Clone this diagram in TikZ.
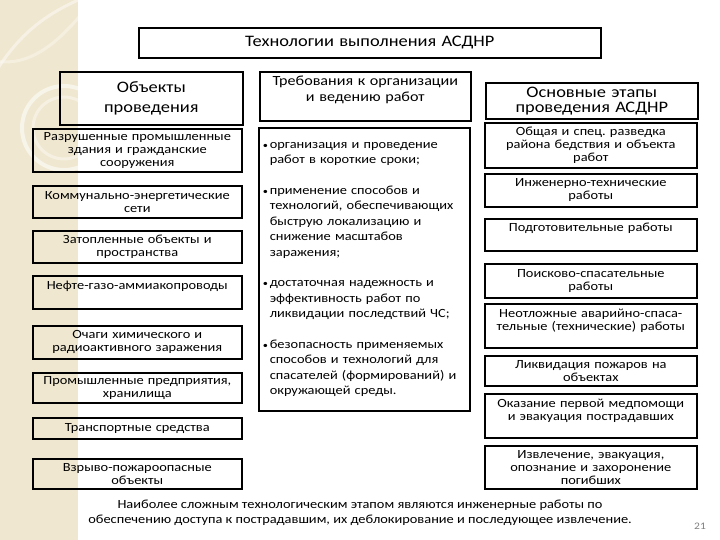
\documentclass[tikz,border=0pt]{standalone}
\usepackage{fontspec}
\setmainfont{Carlito}[FakeStretch=1.15]
\frenchspacing
\newcommand{\bul}{\makebox[7pt][l]{\small\textbullet}}
\newcommand{\itm}[1]{\hangindent=7pt\hangafter=1\noindent\bul#1\par}
\newcommand{\lift}[1]{\par\rule[-#1]{0pt}{#1}}
\definecolor{strip}{RGB}{239,231,207}
\begin{document}
\begin{tikzpicture}[x=1pt, y=-1pt,
  box/.style = {draw, line width=1.6pt, align=center, anchor=north west, inner xsep=2pt, inner ysep=2pt, font=\fontsize{12.5}{13}\selectfont},
  obj/.style = {box, text width=205pt, minimum height=#1},
  stg/.style = {box, text width=208pt, minimum height=#1},
  head/.style = {box, font=\fontsize{16}{16}\selectfont}]
  \useasboundingbox (0,0) rectangle (720,540);
  % left strip
  \fill[strip] (0,0) rectangle (78,540);
  \begin{scope}
    \clip (0,0) rectangle (78,540);
    \draw[white, opacity=.55, line width=4pt] (64,128) circle (42pt);
    \draw[white, opacity=.4, line width=3pt] (64,128) circle (31pt);
    \draw[white, opacity=.45, line width=3pt] (-20,100) .. controls (10,40) and (40,15) .. (90,-5);
    \draw[white, opacity=.35, line width=3pt] (-10,60) .. controls (30,70) and (60,40) .. (85,10);
  \end{scope}

  \node[head, text width=458pt, minimum height=30pt] (title) at (138,27) {Технологии выполнения АСДНР};

  \node[head, text width=179pt, minimum height=53pt, font=\fontsize{16}{20}\selectfont] (h1) at (59,71) {Объекты\\ проведения};
  \node[box, text width=207pt, minimum height=49pt, font=\fontsize{14}{16}\selectfont] (h2) at (259,71) {Требования к организации\\ и ведению работ\lift{0pt}};
  \node[head, text width=208pt, minimum height=36pt, font=\fontsize{16}{15}\selectfont] (h3) at (485,82) {Основные этапы\\ проведения АСДНР};

  % objects
  \node[obj=43pt] (o1) at (32,128) {Разрушенные промышленные\\ здания и гражданские\\ сооружения};
  \node[obj=32pt] (o2) at (32,185) {Коммунально-энергетические\\ сети};
  \node[obj=32pt] (o3) at (32,230) {Затопленные объекты и\\ пространства};
  \node[obj=33pt] (o4) at (32,275) {Нефте-газо-аммиакопроводы\lift{2pt}};
  \node[obj=33pt] (o5) at (32,325) {Очаги химического и\\ радиоактивного заражения};
  \node[obj=30pt] (o6) at (32,372) {Промышленные предприятия,\\ хранилища};
  \node[obj=21pt] (o7) at (32,417) {Транспортные средства};
  \node[obj=30pt] (o8) at (32,458) {Взрыво-пожароопасные\\ объекты};

  % requirements
  \node[box, align=left, text width=203pt, inner xsep=4pt, minimum height=283pt, font=\fontsize{12.5}{15.5}\selectfont] (req) at (258,127) {%
    \itm{организация и проведение\newline работ в короткие сроки;}
    \vspace{15pt}
    \itm{применение способов и\newline технологий, обеспечивающих\newline быструю локализацию и\newline снижение масштабов\newline заражения;}
    \vspace{15pt}
    \itm{достаточная надежность и\newline эффективность работ по\newline ликвидации последствий ЧС;}
    \vspace{15pt}
    \itm{безопасность применяемых\newline способов и технологий для\newline спасателей (формирований) и\newline окружающей среды.}};

  % stages
  \node[stg=45pt] (s1) at (484,122) {Общая и спец. разведка\\ района бедствия и объекта\\ работ};
  \node[stg=33pt] (s2) at (484,173) {Инженерно-технические\\ работы};
  \node[stg=32pt] (s3) at (484,218) {Подготовительные работы\lift{2pt}};
  \node[stg=34pt] (s4) at (484,263) {Поисково-спасательные\\ работы};
  \node[stg=44pt] (s5) at (484,303) {Неотложные аварийно-спаса-\\ тельные (технические) работы\lift{0pt}};
  \node[stg=30pt] (s6) at (484,355) {Ликвидация пожаров на\\ объектах};
  \node[stg=44pt] (s7) at (484,393) {Оказание первой медпомощи\\ и эвакуация пострадавших\lift{0pt}};
  \node[stg=43pt] (s8) at (484,445) {Извлечение, эвакуация,\\ опознание и захоронение\\ погибших};

  \node[align=center, font=\fontsize{12.5}{15.5}\selectfont] (note) at (360,513) {Наиболее сложным технологическим этапом являются инженерные работы по\\ обеспечению доступа к пострадавшим, их деблокирование и последующее извлечение.};
  \node[text=gray, font=\fontsize{10}{10}\selectfont] (num) at (700,526) {21};
\end{tikzpicture}
\end{document}
